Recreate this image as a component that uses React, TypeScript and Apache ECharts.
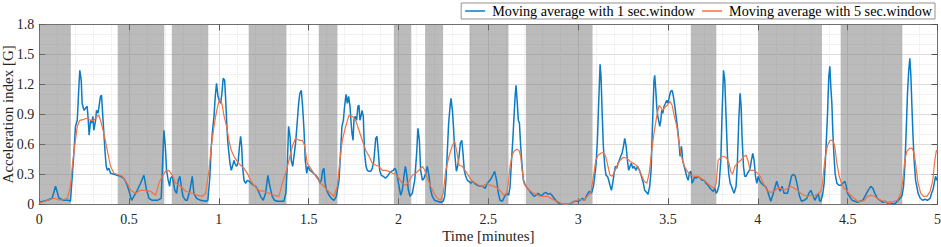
import React, { useEffect, useRef } from "react";
import * as echarts from "echarts";

// Time in minutes, acceleration index in G
const blueTime = [
  0, 0.045, 0.072, 0.091, 0.11, 0.137, 0.165, 0.174, 0.184, 0.193, 0.202, 0.212, 0.221, 0.226, 0.234, 0.239, 0.249, 0.258, 0.267, 0.273,
  0.278, 0.286, 0.291, 0.299, 0.304, 0.314, 0.319, 0.327, 0.334, 0.341, 0.347, 0.353, 0.36, 0.367, 0.373, 0.379, 0.388, 0.397, 0.416, 0.434,
  0.453, 0.471, 0.486, 0.499, 0.514, 0.527, 0.546, 0.564, 0.583, 0.598, 0.611, 0.629, 0.657, 0.679, 0.689, 0.694, 0.702, 0.709, 0.718, 0.726,
  0.731, 0.741, 0.746, 0.755, 0.765, 0.774, 0.783, 0.791, 0.8, 0.815,
  0.824, 0.839, 0.852, 0.861, 0.876, 0.898, 0.926, 0.939, 0.95, 0.958, 0.965, 0.973, 0.98, 0.987, 0.995, 1.002, 1.01, 1.017, 1.024, 1.032,
  1.037, 1.043, 1.049, 1.056, 1.062, 1.069, 1.076, 1.084, 1.089, 1.097, 1.102, 1.108, 1.115, 1.121, 1.127, 1.132, 1.14, 1.149, 1.158, 1.169,
  1.18, 1.195, 1.206, 1.218, 1.232, 1.247, 1.26, 1.273, 1.284, 1.297, 1.31, 1.325, 1.344, 1.362, 1.373, 1.381, 1.388, 1.396, 1.403, 1.411,
  1.418, 1.427, 1.437, 1.444, 1.451, 1.459, 1.466, 1.474, 1.481, 1.489, 1.496, 1.507, 1.515, 1.526, 1.539, 1.552, 1.563, 1.57, 1.578, 1.585,
  1.591, 1.6, 1.613, 1.626, 1.641, 1.654,
  1.669, 1.678, 1.685, 1.693, 1.7, 1.708, 1.715, 1.722, 1.73, 1.735, 1.741, 1.747, 1.752, 1.759, 1.767, 1.774, 1.78, 1.785, 1.791, 1.797,
  1.804, 1.811, 1.819, 1.826, 1.836, 1.845, 1.854, 1.863, 1.873, 1.88, 1.888, 1.895, 1.904, 1.915, 1.927, 1.938, 1.949, 1.96, 1.971, 1.978,
  1.986, 1.993, 2.003, 2.012, 2.021, 2.03, 2.038, 2.045, 2.055, 2.064, 2.077, 2.09, 2.101, 2.108, 2.116, 2.123, 2.133, 2.142, 2.151, 2.16,
  2.17, 2.179, 2.188, 2.201, 2.216, 2.235, 2.249, 2.257, 2.264, 2.272, 2.279, 2.287, 2.292, 2.3, 2.307, 2.314, 2.322, 2.329, 2.337, 2.344,
  2.352, 2.359, 2.366, 2.374, 2.383, 2.392, 2.402, 2.413, 2.424, 2.439, 2.454, 2.468, 2.483,
  2.494, 2.509, 2.522, 2.535, 2.546, 2.556, 2.565, 2.578, 2.591, 2.602, 2.613, 2.621, 2.628, 2.636, 2.643, 2.649, 2.654, 2.66, 2.667, 2.673,
  2.68, 2.688, 2.695, 2.706, 2.717, 2.728, 2.739, 2.754, 2.765, 2.777, 2.788, 2.799, 2.81, 2.821, 2.832, 2.843, 2.854, 2.866, 2.88, 2.895,
  2.912, 2.931, 2.949, 2.968, 2.981, 2.996, 3.01, 3.023, 3.036, 3.048, 3.061, 3.074, 3.085, 3.092, 3.1, 3.107, 3.114, 3.122, 3.127, 3.133,
  3.14, 3.148, 3.155, 3.163, 3.17, 3.177, 3.185, 3.192, 3.2, 3.207, 3.215, 3.222, 3.229, 3.237, 3.244, 3.252, 3.259, 3.267, 3.274, 3.281,
  3.289, 3.296, 3.304, 3.311, 3.322,
  3.33, 3.341, 3.352, 3.363, 3.37, 3.38, 3.389, 3.398, 3.406, 3.411, 3.417, 3.422, 3.426, 3.432, 3.437, 3.443, 3.448, 3.454, 3.46, 3.465,
  3.471, 3.478, 3.486, 3.493, 3.5, 3.508, 3.515, 3.523, 3.53, 3.538, 3.545, 3.552, 3.56, 3.567, 3.575, 3.582, 3.59, 3.597, 3.604, 3.612,
  3.619, 3.627, 3.634, 3.642, 3.649, 3.656, 3.667, 3.679, 3.69, 3.701, 3.712, 3.723, 3.734, 3.745, 3.753, 3.76, 3.768, 3.775, 3.784, 3.794,
  3.801, 3.809, 3.816, 3.823, 3.831, 3.838, 3.846, 3.853, 3.861, 3.868, 3.879, 3.886, 3.894, 3.901, 3.907, 3.912, 3.92, 3.927, 3.935, 3.942,
  3.95, 3.957, 3.964, 3.972, 3.979, 3.987, 3.994, 4.002, 4.009, 4.02, 4.031, 4.042, 4.053, 4.063, 4.072, 4.083, 4.094, 4.105, 4.113, 4.124,
  4.135, 4.146,
  4.165, 4.176, 4.187, 4.198, 4.209, 4.221, 4.232, 4.243, 4.258, 4.273, 4.284, 4.295, 4.306, 4.317, 4.328, 4.336, 4.343, 4.35, 4.36, 4.369,
  4.378, 4.388, 4.395, 4.401, 4.406, 4.412, 4.417, 4.423, 4.43, 4.44, 4.451, 4.462, 4.473, 4.484, 4.492, 4.499, 4.51, 4.525, 4.54, 4.555,
  4.569, 4.584, 4.599, 4.614, 4.629, 4.64, 4.651, 4.666, 4.681, 4.696, 4.71, 4.722, 4.736, 4.751, 4.766, 4.781, 4.792, 4.803, 4.811, 4.818,
  4.826, 4.833, 4.84, 4.846, 4.852, 4.857, 4.863, 4.87, 4.878, 4.885, 4.892, 4.904, 4.917, 4.93, 4.944, 4.959, 4.967, 4.974, 4.982, 4.989,
  4.996, 5.0,
];
const blueValue = [
  0.02, 0.04, 0.06, 0.18, 0.06, 0.04, 0.04, 0.03, 0.28, 0.51, 0.78, 0.84, 1.18, 1.34, 1.24, 1.01, 0.94, 0.96, 0.98, 0.84,
  0.69, 0.84, 0.81, 0.88, 0.74, 0.84, 0.94, 0.91, 0.99, 1.08, 1.09, 0.91, 0.71, 0.51, 0.38, 0.34, 0.36, 0.31, 0.3, 0.29,
  0.28, 0.26, 0.21, 0.14, 0.04, 0.08, 0.14, 0.21, 0.29, 0.14, 0.06, 0.04, 0.04, 0.06, 0.51, 0.74, 0.58, 0.34, 0.24, 0.18,
  0.26, 0.28, 0.23, 0.14, 0.11, 0.24, 0.28, 0.18, 0.08, 0.04,
  0.04, 0.14, 0.28, 0.11, 0.06, 0.04, 0.03, 0.04, 0.28, 0.58, 0.74, 0.88, 1.08, 1.21, 1.08, 1.04, 1.01, 1.11, 1.26, 1.24,
  1.08, 0.84, 0.64, 0.51, 0.41, 0.34, 0.38, 0.44, 0.41, 0.38, 0.39, 0.44, 0.58, 0.68, 0.58, 0.38, 0.24, 0.21, 0.24, 0.23,
  0.21, 0.19, 0.18, 0.14, 0.08, 0.04, 0.11, 0.29, 0.18, 0.08, 0.04, 0.03, 0.03, 0.03, 0.11, 0.38, 0.78, 0.68, 0.44, 0.38,
  0.48, 0.61, 0.84, 1.01, 1.11, 1.14, 0.98, 0.74, 0.44, 0.31, 0.38, 0.34, 0.33, 0.31, 0.29, 0.26, 0.21, 0.24, 0.34, 0.36,
  0.21, 0.14, 0.09, 0.06, 0.04, 0.08,
  0.24, 0.54, 0.78, 0.84, 0.98, 1.1, 1.01, 1.08, 0.98, 0.84, 0.71, 0.64, 0.84, 0.88, 0.84, 0.98, 0.99, 0.84, 0.88, 0.94,
  0.88, 0.51, 0.38, 0.34, 0.33, 0.33, 0.36, 0.44, 0.66, 0.68, 0.51, 0.34, 0.29, 0.28, 0.26, 0.28, 0.31, 0.33, 0.34, 0.36,
  0.34, 0.28, 0.18, 0.09, 0.14, 0.28, 0.38, 0.31, 0.14, 0.08, 0.11, 0.24, 0.51, 0.76, 0.64, 0.34, 0.24, 0.26, 0.31, 0.38,
  0.28, 0.14, 0.08, 0.04, 0.03, 0.02, 0.03, 0.08, 0.24, 0.54, 0.81, 0.98, 1.06, 0.94, 0.74, 0.48, 0.33, 0.38, 0.48, 0.61,
  0.64, 0.51, 0.34, 0.28, 0.24, 0.23, 0.21, 0.23, 0.21, 0.19, 0.18, 0.18, 0.16,
  0.21, 0.24, 0.28, 0.33, 0.24, 0.11, 0.04, 0.03, 0.08, 0.11, 0.09, 0.18, 0.41, 0.64, 0.88, 1.08, 1.19, 1.04, 0.84, 0.81,
  0.58, 0.38, 0.24, 0.19, 0.16, 0.14, 0.11, 0.08, 0.09, 0.11, 0.09, 0.09, 0.11, 0.12, 0.1, 0.11, 0.09, 0.06, 0.03, 0.01,
  0.0, 0.0, 0.0, 0.02, 0.03, 0.03, 0.04, 0.06, 0.04, 0.09, 0.13, 0.11, 0.18, 0.28, 0.41, 0.64, 1.01, 1.4, 1.28, 0.94,
  0.58, 0.38, 0.29, 0.28, 0.24, 0.19, 0.14, 0.21, 0.31, 0.38, 0.36, 0.41, 0.44, 0.48, 0.51, 0.58, 0.66, 0.58, 0.44, 0.34,
  0.38, 0.41, 0.36, 0.38, 0.34,
  0.38, 0.34, 0.28, 0.21, 0.14, 0.12, 0.1, 0.18, 0.34, 0.64, 0.98, 1.24, 1.29, 1.14, 0.98, 0.88, 0.84, 0.78, 0.84, 0.94,
  0.91, 0.98, 1.01, 1.04, 1.01, 1.08, 1.13, 1.14, 1.08, 0.98, 0.88, 0.78, 0.64, 0.48, 0.58, 0.44, 0.38, 0.33, 0.28, 0.24,
  0.31, 0.33, 0.21, 0.24, 0.28, 0.26, 0.28, 0.26, 0.24, 0.24, 0.21, 0.19, 0.16, 0.14, 0.13, 0.16, 0.11, 0.13, 0.19, 0.44,
  0.91, 1.34, 1.24, 0.88, 0.48, 0.31, 0.21, 0.18, 0.14, 0.11, 0.18, 0.41, 0.84, 1.11, 0.98, 0.68, 0.38, 0.28, 0.28, 0.31,
  0.33, 0.36, 0.44, 0.51, 0.44, 0.28, 0.21, 0.28, 0.24, 0.21, 0.19, 0.18, 0.14, 0.08, 0.03, 0.09, 0.16, 0.23, 0.18, 0.13,
  0.18, 0.11,
  0.11, 0.19, 0.28, 0.3, 0.28, 0.18, 0.08, 0.03, 0.04, 0.06, 0.11, 0.14, 0.09, 0.04, 0.08, 0.11, 0.04, 0.03, 0.09, 0.21,
  0.51, 0.91, 1.28, 1.38, 1.18, 1.01, 0.74, 0.51, 0.31, 0.21, 0.19, 0.19, 0.21, 0.23, 0.18, 0.11, 0.08, 0.04, 0.03, 0.02,
  0.03, 0.04, 0.09, 0.14, 0.18, 0.16, 0.11, 0.06, 0.04, 0.02, 0.03, 0.01, 0.02, 0.0, 0.01, 0.04, 0.06, 0.09, 0.18, 0.38,
  0.74, 1.11, 1.34, 1.46, 1.28, 1.01, 0.71, 0.44, 0.24, 0.18, 0.11, 0.06, 0.04, 0.05, 0.04, 0.06, 0.11, 0.14, 0.21, 0.28,
  0.24, 0.26,
];

const orangeTime = [
  0, 0.045, 0.082, 0.119, 0.156, 0.174, 0.184, 0.197, 0.212, 0.226, 0.249, 0.267, 0.286, 0.304, 0.323, 0.332, 0.341, 0.36, 0.379, 0.397,
  0.416, 0.434, 0.462, 0.49, 0.509, 0.536, 0.564, 0.592, 0.62, 0.648, 0.666, 0.685, 0.703, 0.722, 0.741, 0.759, 0.787, 0.815,
  0.852, 0.88, 0.908, 0.926, 0.945, 0.958, 0.973, 0.987, 1.0, 1.01, 1.019, 1.028, 1.043, 1.056, 1.069, 1.084, 1.102, 1.121, 1.14, 1.158,
  1.177, 1.195, 1.223, 1.251, 1.279, 1.307, 1.334, 1.353, 1.372, 1.39, 1.409, 1.427, 1.446, 1.464, 1.477, 1.492, 1.511, 1.529, 1.548, 1.566,
  1.585, 1.604, 1.622, 1.641,
  1.659, 1.674, 1.687, 1.706, 1.724, 1.743, 1.761, 1.78, 1.798, 1.817, 1.836, 1.854, 1.873, 1.891, 1.91, 1.928, 1.947, 1.966, 1.984, 2.003,
  2.021, 2.04, 2.058, 2.077, 2.095, 2.114, 2.133, 2.146, 2.16, 2.179, 2.198, 2.216, 2.235, 2.249, 2.262, 2.281, 2.3, 2.313, 2.324, 2.337,
  2.355, 2.374, 2.392, 2.411, 2.43, 2.448, 2.467,
  2.494, 2.513, 2.532, 2.55, 2.569, 2.587, 2.602, 2.611, 2.621, 2.632, 2.643, 2.658, 2.671, 2.68, 2.688, 2.699, 2.717, 2.736, 2.754, 2.773,
  2.791, 2.81, 2.829, 2.847, 2.866, 2.884, 2.903, 2.931, 2.958, 2.977, 2.996, 3.014, 3.033, 3.051, 3.07, 3.085, 3.098, 3.111, 3.126, 3.14,
  3.153, 3.166, 3.177, 3.19, 3.203, 3.218, 3.233, 3.252, 3.27, 3.289, 3.307,
  3.33, 3.348, 3.367, 3.382, 3.395, 3.408, 3.422, 3.437, 3.45, 3.46, 3.469, 3.482, 3.497, 3.51, 3.523, 3.534, 3.549, 3.562, 3.575, 3.59,
  3.608, 3.627, 3.645, 3.664, 3.682, 3.701, 3.72, 3.738, 3.757, 3.768, 3.779, 3.794, 3.812, 3.827, 3.84, 3.849, 3.859, 3.872, 3.886, 3.905,
  3.924, 3.935, 3.946, 3.957, 3.976, 3.994, 4.013, 4.031, 4.05, 4.068, 4.091, 4.109, 4.128, 4.146,
  4.165, 4.183, 4.202, 4.221, 4.239, 4.258, 4.276, 4.295, 4.313, 4.332, 4.35, 4.358, 4.365, 4.376, 4.388, 4.402, 4.417, 4.428, 4.44, 4.453,
  4.466, 4.48, 4.499, 4.517, 4.536, 4.555, 4.573, 4.592, 4.61, 4.629, 4.647, 4.666, 4.685, 4.703, 4.722, 4.74, 4.759, 4.777, 4.796, 4.807,
  4.818, 4.829, 4.844, 4.859, 4.87, 4.88, 4.892, 4.907, 4.922, 4.941, 4.959, 4.974, 4.985, 4.994, 5.0,
];
const orangeValue = [
  0.01, 0.04, 0.06, 0.04, 0.06, 0.18, 0.38, 0.58, 0.78, 0.84, 0.85, 0.86, 0.84, 0.84, 0.88, 0.89, 0.84, 0.71, 0.54, 0.38,
  0.31, 0.3, 0.28, 0.21, 0.14, 0.11, 0.14, 0.14, 0.13, 0.09, 0.21, 0.28, 0.33, 0.34, 0.29, 0.21, 0.18, 0.13,
  0.11, 0.09, 0.08, 0.11, 0.34, 0.58, 0.78, 0.93, 1.03, 1.04, 0.99, 0.89, 0.78, 0.64, 0.54, 0.48, 0.43, 0.39, 0.36, 0.31,
  0.24, 0.19, 0.14, 0.13, 0.11, 0.09, 0.08, 0.21, 0.31, 0.44, 0.58, 0.66, 0.64, 0.64, 0.59, 0.41, 0.36, 0.31, 0.26, 0.21,
  0.18, 0.14, 0.11, 0.08,
  0.18, 0.44, 0.64, 0.78, 0.89, 0.88, 0.84, 0.74, 0.64, 0.54, 0.48, 0.41, 0.39, 0.38, 0.34, 0.34, 0.33, 0.31, 0.3, 0.26,
  0.21, 0.19, 0.23, 0.29, 0.31, 0.34, 0.38, 0.34, 0.26, 0.18, 0.11, 0.06, 0.04, 0.11, 0.33, 0.48, 0.59, 0.63, 0.53, 0.39,
  0.38, 0.33, 0.28, 0.23, 0.21, 0.19, 0.18,
  0.21, 0.19, 0.18, 0.16, 0.13, 0.09, 0.11, 0.21, 0.38, 0.49, 0.53, 0.55, 0.54, 0.48, 0.34, 0.21, 0.16, 0.13, 0.11, 0.09,
  0.08, 0.08, 0.08, 0.06, 0.04, 0.03, 0.01, 0.0, 0.01, 0.03, 0.04, 0.05, 0.04, 0.08, 0.11, 0.28, 0.44, 0.49, 0.51, 0.52,
  0.48, 0.38, 0.29, 0.28, 0.33, 0.39, 0.44, 0.47, 0.46, 0.43, 0.41,
  0.38, 0.31, 0.23, 0.21, 0.31, 0.51, 0.71, 0.88, 0.99, 0.97, 0.94, 0.97, 0.99, 1.03, 0.99, 0.89, 0.78, 0.61, 0.48, 0.38,
  0.33, 0.29, 0.28, 0.28, 0.26, 0.24, 0.21, 0.18, 0.16, 0.21, 0.44, 0.47, 0.48, 0.46, 0.41, 0.33, 0.3, 0.38, 0.41, 0.44,
  0.48, 0.49, 0.43, 0.34, 0.34, 0.32, 0.28, 0.21, 0.14, 0.12, 0.13, 0.16, 0.16, 0.14,
  0.16, 0.18, 0.16, 0.14, 0.11, 0.09, 0.08, 0.09, 0.08, 0.1, 0.13, 0.18, 0.31, 0.48, 0.59, 0.64, 0.64, 0.58, 0.41, 0.28,
  0.21, 0.16, 0.13, 0.09, 0.06, 0.03, 0.03, 0.04, 0.08, 0.09, 0.08, 0.06, 0.04, 0.03, 0.02, 0.02, 0.03, 0.04, 0.11, 0.24,
  0.44, 0.53, 0.56, 0.56, 0.51, 0.38, 0.21, 0.11, 0.08, 0.08, 0.13, 0.24, 0.44, 0.54, 0.53,
];

// Shaded intervals (minutes)
const shadeStart = [0, 0.437, 0.738, 1.166, 1.556, 1.974, 2.148, 2.395, 2.709, 3.627, 4.003, 4.461];
const shadeEnd = [0.176, 0.696, 0.941, 1.376, 1.66, 2.071, 2.248, 2.612, 3.08, 3.769, 4.357, 4.804];

const seriesNames = ["Moving average with 1 sec.window", "Moving average with 5 sec.window"];
const xTickStep = 0.5;
const yTickStep = 0.3;

const FONT = "'Liberation Serif', 'Times New Roman', serif";

export default function App() {
  const ref = useRef<HTMLDivElement>(null);
  useEffect(() => {
    if (!ref.current) return;
    const chart = echarts.init(ref.current, undefined, { renderer: "svg" });
    const blueData = blueTime.map((t, i) => [t, blueValue[i]]);
    const orangeData = orangeTime.map((t, i) => [t, orangeValue[i]]);
    const areas = shadeStart.map((s, i) => [{ xAxis: s }, { xAxis: shadeEnd[i] }]);
    const axisColor = "#6f6f6f";
    const baseX = { type: "value", min: 0, max: 5, interval: xTickStep };
    const baseY = { type: "value", min: 0, max: 1.8, interval: yTickStep };
    const fmt = (v: number) => String(Math.round(v * 10) / 10);
    chart.setOption({
      animation: false,
      backgroundColor: "#ffffff",
      textStyle: { fontFamily: FONT },
      grid: {
        left: 39.2,
        right: 3.5,
        top: 24.3,
        bottom: 42.7,
        containLabel: false,
        outerBoundsMode: "none",
      },
      legend: {
        data: seriesNames.map((n) => ({ name: n, icon: "rect" })),
        right: 6,
        top: 3,
        orient: "horizontal",
        itemWidth: 20,
        itemHeight: 1.5,
        itemGap: 7,
        padding: [1, 3, 1, 4],
        borderColor: "#777777",
        borderWidth: 0.8,
        backgroundColor: "#ffffff",
        borderRadius: 0,
        textStyle: { fontFamily: FONT, fontSize: 14.2, color: "#000000", padding: [0, 0, 0, 2] },
      },
      xAxis: [
        {
          ...baseX,
          position: "bottom",
          name: "Time [minutes]",
          nameLocation: "middle",
          nameGap: 24,
          nameMoveOverlap: false,
          nameTextStyle: { fontFamily: FONT, fontSize: 15, color: "#262626" },
          axisLine: { show: true, onZero: false, lineStyle: { color: axisColor, width: 1 } },
          axisTick: { show: true, inside: true, length: 6, lineStyle: { color: "#555" } },
          axisLabel: { show: true, margin: 8, fontFamily: FONT, fontSize: 14, color: "#262626", formatter: fmt },
          splitLine: { show: true, lineStyle: { color: "#dcdcdc", width: 1 } },
          minorTick: { show: false, splitNumber: 5 },
          minorSplitLine: { show: true, lineStyle: { color: "#e6e6e6", width: 1, type: "dotted" } },
        },
        {
          ...baseX,
          position: "top",
          axisLine: { show: true, onZero: false, lineStyle: { color: axisColor, width: 1 } },
          axisTick: { show: true, inside: true, length: 6, lineStyle: { color: "#555" } },
          axisLabel: { show: false },
          splitLine: { show: false },
        },
      ],
      yAxis: [
        {
          ...baseY,
          position: "left",
          name: "Acceleration index [G]",
          nameLocation: "middle",
          nameGap: 24,
          nameMoveOverlap: false,
          nameTextStyle: { fontFamily: FONT, fontSize: 15, color: "#262626" },
          axisLine: { show: true, onZero: false, lineStyle: { color: axisColor, width: 1 } },
          axisTick: { show: true, inside: true, length: 6, lineStyle: { color: "#555" } },
          axisLabel: { show: true, margin: 5, fontFamily: FONT, fontSize: 14, color: "#262626", formatter: fmt },
          splitLine: { show: true, lineStyle: { color: "#dcdcdc", width: 1 } },
          minorTick: { show: false, splitNumber: 3 },
          minorSplitLine: { show: true, lineStyle: { color: "#e6e6e6", width: 1, type: "dotted" } },
        },
        {
          ...baseY,
          position: "right",
          axisLine: { show: true, onZero: false, lineStyle: { color: axisColor, width: 1 } },
          axisTick: { show: true, inside: true, length: 6, lineStyle: { color: "#555" } },
          axisLabel: { show: false },
          splitLine: { show: false },
        },
      ],
      series: [
        {
          name: seriesNames[0],
          type: "line",
          xAxisIndex: 0,
          yAxisIndex: 0,
          data: blueData,
          symbol: "none",
          lineStyle: { color: "#0a7bc4", width: 1.5 },
          itemStyle: { color: "#0a7bc4" },
          z: 3,
          markArea: {
            silent: true,
            itemStyle: { color: "rgba(120,120,120,0.5)" },
            data: areas,
          },
        },
        {
          name: seriesNames[1],
          type: "line",
          xAxisIndex: 0,
          yAxisIndex: 0,
          data: orangeData,
          symbol: "none",
          lineStyle: { color: "#f3723f", width: 1.2 },
          itemStyle: { color: "#f3723f" },
          z: 4,
        },
      ],
    });
    return () => chart.dispose();
  }, []);
  return <div ref={ref} style={{ width: 941, height: 247, position: "absolute", left: 0, top: 0 }} />;
}
